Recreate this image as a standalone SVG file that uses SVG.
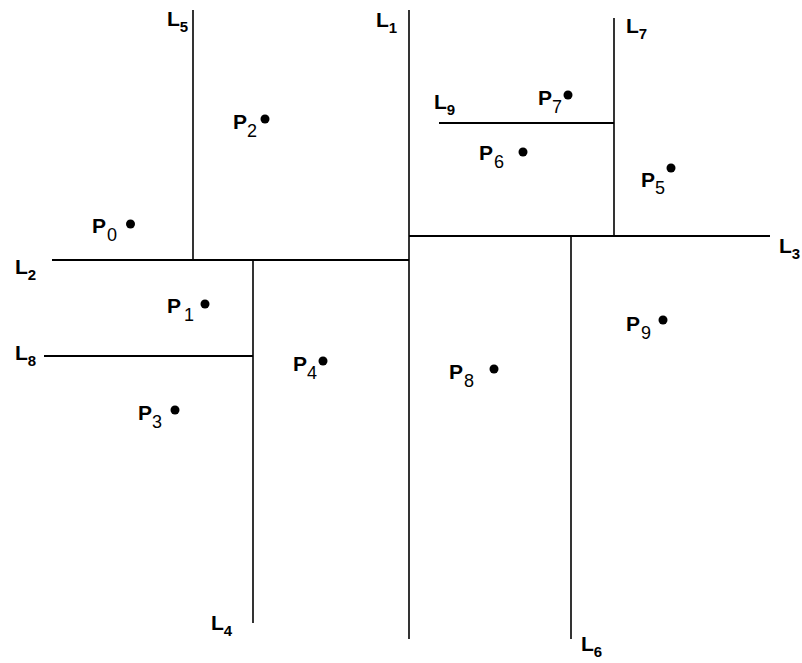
<svg xmlns="http://www.w3.org/2000/svg" width="802" height="663" viewBox="0 0 802 663">
<style>
.ln{stroke:#000;stroke-width:1.6;fill:none}
.h{stroke-width:2.2}
.lbl{font-family:"Liberation Sans",Arial,sans-serif;font-weight:bold;font-size:21px;fill:#000}
.ls{font-size:15px;font-weight:bold}
.ps{font-size:18px;font-weight:normal}
.dot{fill:#000}
</style>
<rect width="802" height="663" fill="#fff"/>
<g id="connectors">
<line id="L1" class="ln" x1="409" y1="10" x2="409" y2="639"/>
<line id="L2" class="ln h" x1="52" y1="260" x2="409" y2="260"/>
<line id="L3" class="ln h" x1="409" y1="236" x2="770" y2="236"/>
<line id="L4" class="ln" x1="253" y1="260" x2="253" y2="623"/>
<line id="L5" class="ln" x1="193" y1="10" x2="193" y2="260"/>
<line id="L6" class="ln" x1="571" y1="236" x2="571" y2="639"/>
<line id="L7" class="ln" x1="614" y1="18" x2="614" y2="236"/>
<line id="L8" class="ln h" x1="44" y1="356" x2="253" y2="356"/>
<line id="L9" class="ln h" x1="439" y1="123" x2="614" y2="123"/>
</g>
<g id="line-labels">
<text class="lbl" x="376" y="27">L<tspan class="ls" dy="6">1</tspan></text>
<text class="lbl" x="15" y="274">L<tspan class="ls" dy="6">2</tspan></text>
<text class="lbl" x="779" y="253">L<tspan class="ls" dy="6">3</tspan></text>
<text class="lbl" x="211" y="630">L<tspan class="ls" dy="6">4</tspan></text>
<text class="lbl" x="167" y="26">L<tspan class="ls" dy="6">5</tspan></text>
<text class="lbl" x="581" y="651">L<tspan class="ls" dy="6">6</tspan></text>
<text class="lbl" x="626" y="33">L<tspan class="ls" dy="6">7</tspan></text>
<text class="lbl" x="15" y="360">L<tspan class="ls" dy="6">8</tspan></text>
<text class="lbl" x="434" y="109">L<tspan class="ls" dy="6">9</tspan></text>
</g>
<g id="P0"><circle class="dot" cx="130.5" cy="224" r="4.5"/><text class="lbl" x="92" y="233">P<tspan class="ps" dx="1" dy="8">0</tspan></text></g>
<g id="P1"><circle class="dot" cx="205" cy="304" r="4.5"/><text class="lbl" x="167" y="313">P<tspan class="ps" dx="3" dy="8">1</tspan></text></g>
<g id="P2"><circle class="dot" cx="265" cy="119" r="4.5"/><text class="lbl" x="233" y="129">P<tspan class="ps" dy="8">2</tspan></text></g>
<g id="P3"><circle class="dot" cx="175" cy="410" r="4.5"/><text class="lbl" x="138" y="420">P<tspan class="ps" dy="8">3</tspan></text></g>
<g id="P4"><circle class="dot" cx="323" cy="361" r="4.5"/><text class="lbl" x="293" y="371">P<tspan class="ps" dy="8">4</tspan></text></g>
<g id="P5"><circle class="dot" cx="671" cy="168" r="4.5"/><text class="lbl" x="641" y="187">P<tspan class="ps" dy="7">5</tspan></text></g>
<g id="P6"><circle class="dot" cx="523" cy="152" r="4.5"/><text class="lbl" x="479" y="160">P<tspan class="ps" dx="1" dy="8">6</tspan></text></g>
<g id="P7"><circle class="dot" cx="568" cy="95" r="4.5"/><text class="lbl" x="538" y="105">P<tspan class="ps" dy="8">7</tspan></text></g>
<g id="P8"><circle class="dot" cx="494" cy="369" r="4.5"/><text class="lbl" x="449" y="379">P<tspan class="ps" dx="1" dy="8">8</tspan></text></g>
<g id="P9"><circle class="dot" cx="663" cy="320" r="4.5"/><text class="lbl" x="626" y="331">P<tspan class="ps" dx="1" dy="8">9</tspan></text></g>
</svg>
